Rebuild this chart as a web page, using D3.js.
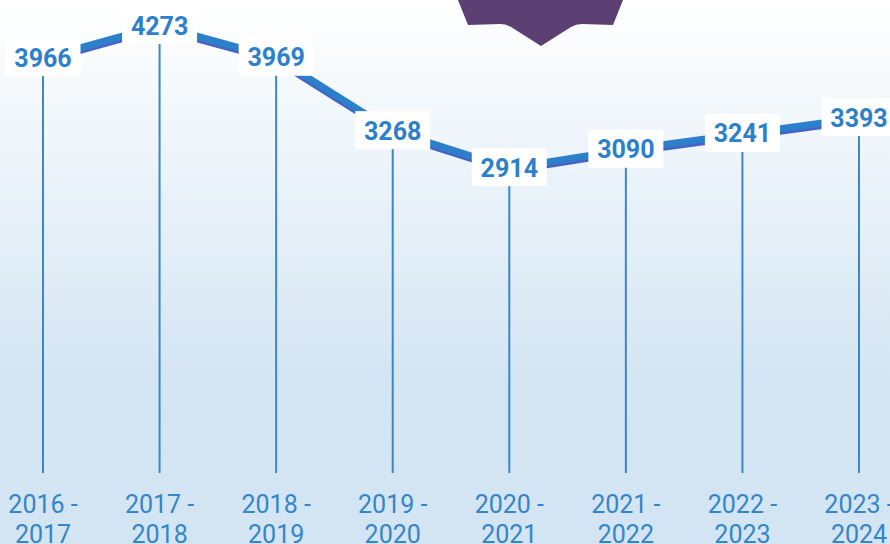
<!DOCTYPE html>
<html>
<head>
<meta charset="utf-8">
<script src="https://cdn.jsdelivr.net/npm/d3@7"></script>
<style>
  body { margin: 0; overflow: hidden; }
  svg { display: block; font-family: Roboto, sans-serif; }
</style>
</head>
<body>
<svg width="890" height="544"></svg>
<script>
const svg = d3.select('svg');
const width = +svg.attr('width');
const height = +svg.attr('height');

// data
const years = ['2016 - 2017', '2017 - 2018', '2018 - 2019', '2019 - 2020',
               '2020 - 2021', '2021 - 2022', '2022 - 2023', '2023 - 2024'];
const values = [3966, 4273, 3969, 3268, 2914, 3090, 3241, 3393];

const data = years.map((y, i) => ({year: y, value: values[i]}));

const blue = '#2c7fca';

// background gradient
const defs = svg.append('defs');
const grad = defs.append('linearGradient')
    .attr('id', 'bg')
    .attr('x1', 0).attr('y1', 0).attr('x2', 0).attr('y2', 1);
grad.append('stop').attr('offset', '0%').attr('stop-color', '#ffffff');
grad.append('stop').attr('offset', '70%').attr('stop-color', '#d4e5f3');
grad.append('stop').attr('offset', '100%').attr('stop-color', '#d3e4f2');

svg.append('rect')
    .attr('width', width).attr('height', height)
    .attr('fill', 'url(#bg)');

// purple badge at the top
svg.append('path')
    .attr('d', 'M458,0 L468,25 L500,24 Q506,24 511,27 L541,46 L571,27 Q576,24 582,24 L613,25 L623,0 Z')
    .attr('fill', '#5c3f73');

const xScale = d3.scalePoint()
    .domain(years)
    .range([43, 859]);

const yScale = d3.scaleLinear()
    .domain([0, d3.max(values)])
    .range([473, 26]);

const g = svg.append('g');

// vertical drop lines
g.selectAll('.drop').data(data)
  .enter().append('line')
    .attr('class', 'drop')
    .attr('x1', d => xScale(d.year))
    .attr('x2', d => xScale(d.year))
    .attr('y1', d => yScale(d.value))
    .attr('y2', yScale(0))
    .attr('stroke', '#3a87c9')
    .attr('stroke-width', 2);

const lineGen = d3.line()
    .x(d => xScale(d.year))
    .y(d => yScale(d.value));

// slight shadow under the line
g.append('path')
    .attr('d', lineGen(data))
    .attr('transform', 'translate(0,2.5)')
    .attr('fill', 'none')
    .attr('stroke', '#4763c4')
    .attr('stroke-width', 7);

g.append('path')
    .attr('d', lineGen(data))
    .attr('fill', 'none')
    .attr('stroke', blue)
    .attr('stroke-width', 7);

// value labels
const labels = g.selectAll('.val').data(data)
  .enter().append('g')
    .attr('class', 'val')
    .attr('transform', d => `translate(${xScale(d.year)},${yScale(d.value)})`);

labels.append('rect')
    .attr('x', -37.5).attr('y', -20)
    .attr('width', 75).attr('height', 38)
    .attr('fill', '#ffffff');

labels.append('text')
    .attr('text-anchor', 'middle')
    .attr('y', 8.5)
    .attr('fill', blue)
    .attr('font-size', 25)
    .attr('font-weight', 'bold')
    .text(d => d.value);

// x labels in two lines
const xl = g.selectAll('.xl').data(data)
  .enter().append('text')
    .attr('class', 'xl')
    .attr('text-anchor', 'middle')
    .attr('fill', '#3486ca')
    .attr('font-size', 25)
    .attr('transform', d => `translate(${xScale(d.year)},0)`);

xl.append('tspan')
    .attr('x', 0).attr('y', 513)
    .text(d => d.year.split(' - ')[0] + ' -');
xl.append('tspan')
    .attr('x', 0).attr('y', 543)
    .text(d => d.year.split(' - ')[1]);
</script>
</body>
</html>
